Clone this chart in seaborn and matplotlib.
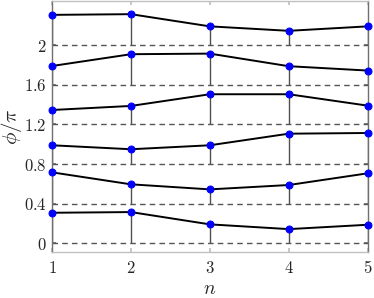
import numpy as np
import pandas as pd
import matplotlib
matplotlib.use("Agg")
import matplotlib.pyplot as plt
import seaborn as sns

n_vals = [1, 2, 3, 4, 5]
baselines = [0.0, 0.4, 0.8, 1.2, 1.6, 2.0]
series_1 = [0.309, 0.316, 0.192, 0.144, 0.188]
series_2 = [0.717, 0.596, 0.545, 0.589, 0.707]
series_3 = [0.990, 0.950, 0.990, 1.107, 1.114]
series_4 = [1.346, 1.387, 1.505, 1.505, 1.390]
series_5 = [1.790, 1.909, 1.915, 1.788, 1.744]
series_6 = [2.306, 2.313, 2.190, 2.145, 2.190]
all_series = [series_1, series_2, series_3, series_4, series_5, series_6]
yticks = [0, 0.4, 0.8, 1.2, 1.6, 2.0]
ytick_labels = ["0", "0.4", "0.8", "1.2", "1.6", "2"]
xtick_labels = ["1", "2", "3", "4", "5"]

sns.set_theme(style="white")
plt.rcParams["mathtext.fontset"] = "cm"
plt.rcParams["font.family"] = ["DejaVu Serif"]

rows = []
for i, s in enumerate(all_series):
    for x, y in zip(n_vals, s):
        rows.append({"n": x, "phi": y, "series": i, "base": baselines[i]})
df = pd.DataFrame(rows)

fig = plt.figure(figsize=(3.74, 2.98), dpi=100)
ax = fig.add_axes([0.139, 0.155, 0.844, 0.842])

for b in baselines:
    ax.axhline(b, color="#555555", linestyle=(0, (4, 3)), linewidth=1.0, zorder=1)

ax.vlines(df["n"], df["base"], df["phi"], color="#505050", linewidth=1.0, zorder=2)

sns.lineplot(data=df, x="n", y="phi", hue="series", palette=["black"] * 6,
             legend=False, ax=ax, linewidth=1.4, marker="o", markersize=5,
             markerfacecolor="blue", markeredgecolor="blue", zorder=3,
             estimator=None)
for line in ax.lines[len(baselines):]:
    line.set_clip_on(False)

ax.set_xlim(1, 5)
ax.set_ylim(-0.085, 2.447)
ax.set_xticks(n_vals)
ax.set_xticklabels(["$%s$" % t for t in xtick_labels])
ax.set_yticks(yticks)
ax.set_yticklabels(["$%s$" % t for t in ytick_labels])
ax.set_xlabel("$n$", fontsize=14, labelpad=2)
ax.set_ylabel(r"$\phi/\pi$", fontsize=15, labelpad=0)

for side in ["top", "bottom"]:
    ax.spines[side].set_color("#c0c0c0")
    ax.spines[side].set_linewidth(1.0)
for side in ["left", "right"]:
    ax.spines[side].set_color("#707070")
    ax.spines[side].set_linewidth(1.0)
ax.tick_params(axis="x", direction="in", top=True, bottom=True, length=3,
               color="#c0c0c0", labelsize=12, labelcolor="#262626", pad=6)
ax.tick_params(axis="y", direction="in", left=True, right=True, length=3,
               color="#707070", labelsize=12, labelcolor="#262626", pad=4)
ax.grid(False)

fig.savefig("out.png", dpi=100)
